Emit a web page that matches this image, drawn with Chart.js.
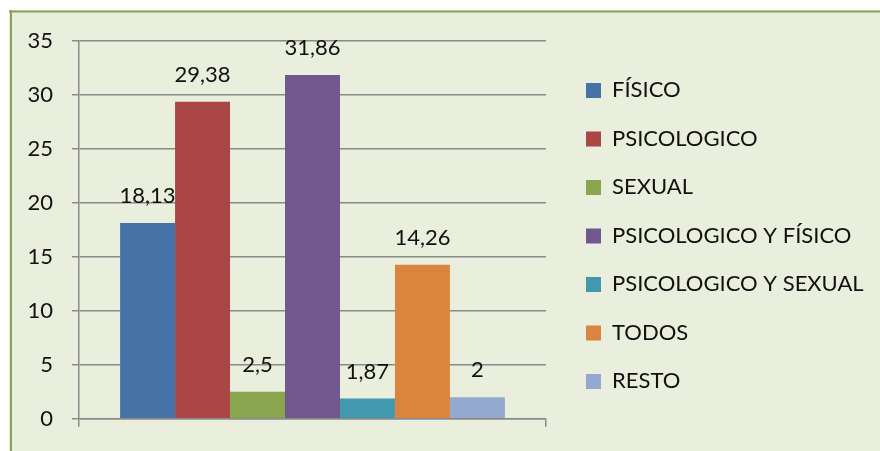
<!DOCTYPE html>
<html>
<head>
<meta charset="utf-8">
<script src="https://cdn.jsdelivr.net/npm/chart.js@4"></script>
<style>
  body { margin: 0; background: #fff; }
  #wrap { width: 880px; height: 451px; }
</style>
</head>
<body>
<div id="wrap"><canvas id="chart" width="880" height="451"></canvas></div>
<script>
// chart values
const seriesNames = ["FÍSICO", "PSICOLOGICO", "SEXUAL", "PSICOLOGICO Y FÍSICO", "PSICOLOGICO Y SEXUAL", "TODOS", "RESTO"];
const seriesValues = [18.13, 29.38, 2.5, 31.86, 1.87, 14.26, 2];
const seriesColors = ["#4572A7", "#AA4643", "#89A54E", "#71588F", "#4198AF", "#DB843D", "#93A9CF"];
const categories = [""];
const yTicks = [0, 5, 10, 15, 20, 25, 30, 35];

const FONT = "Lato";
const FSIZE = 22;
const gridColor = "#8a8a8a";
const legendPad = 26.5;
const legendBox = 15;
const legendBoxX = 586;   // where the legend swatches start
const legendShiftY = 47;

// background panel with the green frame
const panelPlugin = {
  id: "panel",
  beforeDraw(chart) {
    const ctx = chart.ctx;
    ctx.save();
    ctx.fillStyle = "#ffffff";
    ctx.fillRect(0, 0, chart.width, chart.height);
    ctx.fillStyle = "#e9efdc";
    ctx.fillRect(9, 10, chart.width - 9, chart.height - 10);
    ctx.strokeStyle = "#88a553";
    ctx.lineWidth = 2;
    ctx.beginPath();
    ctx.moveTo(9, 11.5);
    ctx.lineTo(chart.width, 11.5);
    ctx.moveTo(11, 10);
    ctx.lineTo(11, chart.height);
    ctx.stroke();
    ctx.restore();
  }
};

// move the legend (laid out in the chart area) into the free space on the right
const legendPlace = {
  id: "legendPlace",
  afterLayout(chart) {
    const lg = chart.legend;
    if (!lg) return;
    const dx = legendBoxX - legendPad - lg.left;
    lg.left += dx;
    lg.right += dx;
    lg.top += legendShiftY;
    lg.bottom += legendShiftY;
  }
};

// value labels above each bar, decimal comma
const valueLabels = {
  id: "valueLabels",
  afterDatasetsDraw(chart) {
    const ctx = chart.ctx;
    ctx.save();
    ctx.font = FSIZE + "px " + FONT;
    ctx.fillStyle = "#111";
    ctx.textAlign = "center";
    ctx.textBaseline = "middle";
    chart.data.datasets.forEach((ds, i) => {
      const meta = chart.getDatasetMeta(i);
      meta.data.forEach((bar, j) => {
        const txt = String(ds.data[j]).replace(".", ",");
        ctx.fillText(txt, bar.x, bar.y - 27);
      });
    });
    ctx.restore();
  }
};

const datasets = seriesNames.map((name, i) => ({
  label: name,
  data: [seriesValues[i]],
  backgroundColor: seriesColors[i],
  borderWidth: 0,
  categoryPercentage: 0.824,
  barPercentage: 1
}));

new Chart(document.getElementById("chart"), {
  type: "bar",
  data: { labels: categories, datasets: datasets },
  options: {
    responsive: false,
    animation: false,
    layout: { padding: { top: 41, bottom: 21, left: 0, right: 334 } },
    plugins: {
      tooltip: { enabled: false },
      legend: {
        position: "chartArea",
        align: "center",
        labels: {
          boxWidth: legendBox,
          boxHeight: legendBox,
          padding: legendPad,
          color: "#111",
          font: { family: FONT, size: FSIZE }
        }
      }
    },
    scales: {
      x: {
        offset: true,
        grid: { offset: true, drawOnChartArea: false, drawTicks: true, tickLength: 8, color: gridColor, lineWidth: 1.5 },
        border: { display: true, color: gridColor, width: 1.5 },
        ticks: { display: false },
        afterFit: (s) => { s.height = 4; }
      },
      y: {
        min: 0,
        max: 35,
        afterBuildTicks: (s) => { s.ticks = yTicks.map(v => ({ value: v })); },
        grid: { color: gridColor, lineWidth: 1.5, tickLength: 7 },
        border: { display: true, color: gridColor, width: 1.5 },
        ticks: { color: "#111", padding: 19, font: { family: FONT, size: FSIZE } },
        afterFit: (s) => { s.width = 79; }
      }
    }
  },
  plugins: [panelPlugin, legendPlace, valueLabels]
});
</script>
</body>
</html>
